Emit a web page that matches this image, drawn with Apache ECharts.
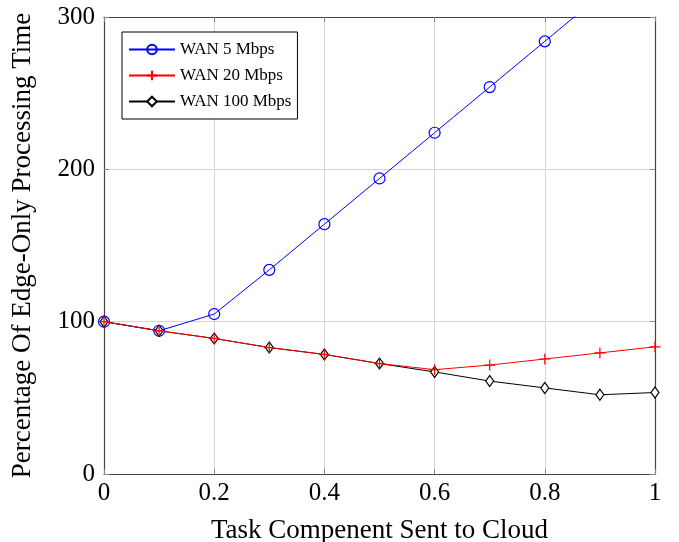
<!DOCTYPE html>
<html>
<head>
<meta charset="utf-8">
<script src="https://cdn.jsdelivr.net/npm/echarts@6/dist/echarts.min.js"></script>
<style>
  html, body { margin: 0; padding: 0; background: #fff; }
  #chart { width: 679px; height: 542px; }
</style>
</head>
<body>
<div id="chart"></div>
<script>
// Fraction of the task component offloaded to the cloud
const fractions = [0, 0.1, 0.2, 0.3, 0.4, 0.5, 0.6, 0.7, 0.8, 0.9, 1.0];
// Processing time as a percentage of edge-only time
const wan5 = [100, 94, 105, 134, 164, 194, 224, 254, 284, 314, 344];
const wan20 = [100, 94, 89, 83, 78.5, 72.5, 68.5, 71.5, 75.5, 79.5, 83.5];
const wan100 = [100, 94, 89, 83, 78.5, 72.5, 67, 61, 56.5, 52, 53.5];
const seriesNames = ['WAN 5 Mbps', 'WAN 20 Mbps', 'WAN 100 Mbps'];

const pairs = ys => fractions.map((x, i) => [x, ys[i]]);
const serif = 'Liberation Serif';
const plusPath = 'path://M0,-5L0,5M-5,0L5,0';

const chart = echarts.init(document.getElementById('chart'), null, { renderer: 'canvas' });

const frameLine = { show: true, onZero: false, lineStyle: { color: '#444', width: 1.2 } };
const frameTick = { show: true, inside: true, length: 5, lineStyle: { color: '#888', width: 1 } };

chart.setOption({
  animation: false,
  textStyle: { fontFamily: serif },
  grid: {
    left: 104, right: 24, top: 17, bottom: 68,
    containLabel: false, outerBoundsMode: 'none'
  },
  legend: {
    orient: 'vertical',
    left: 122,
    top: 32,
    itemWidth: 46,
    itemHeight: 12,
    itemGap: 9,
    padding: [9, 6, 9, 6],
    borderColor: '#000',
    borderWidth: 1,
    backgroundColor: '#fff',
    textStyle: { fontFamily: serif, fontSize: 17, color: '#000' },
    data: seriesNames
  },
  xAxis: [
    {
      type: 'value', min: 0, max: 1, interval: 0.2, position: 'bottom',
      name: 'Task Compenent Sent to Cloud',
      nameLocation: 'middle', nameGap: 43,
      nameTextStyle: { fontFamily: serif, fontSize: 27, color: '#000' },
      axisLine: frameLine,
      axisTick: frameTick,
      axisLabel: { fontFamily: serif, fontSize: 25, color: '#000', margin: 7 },
      splitLine: { show: true, lineStyle: { color: '#d4d4d4', width: 1 } }
    },
    {
      type: 'value', min: 0, max: 1, interval: 0.2, position: 'top',
      axisLine: frameLine, axisTick: frameTick,
      axisLabel: { show: false }, splitLine: { show: false }
    }
  ],
  yAxis: [
    {
      type: 'value', min: 0, max: 300, interval: 100, position: 'left',
      name: 'Percentage Of Edge-Only Processing Time',
      nameLocation: 'middle', nameGap: 68, nameRotate: 90,
      nameTextStyle: { fontFamily: serif, fontSize: 27, color: '#000' },
      axisLine: frameLine,
      axisTick: frameTick,
      axisLabel: { fontFamily: serif, fontSize: 25, color: '#000', margin: 9 },
      splitLine: { show: true, lineStyle: { color: '#d4d4d4', width: 1 } }
    },
    {
      type: 'value', min: 0, max: 300, interval: 100, position: 'right',
      axisLine: frameLine, axisTick: frameTick,
      axisLabel: { show: false }, splitLine: { show: false }
    }
  ],
  series: [
    {
      name: seriesNames[0], type: 'line', data: pairs(wan5), clip: true,
      symbol: 'circle', symbolSize: 11,
      lineStyle: { color: '#0000ff', width: 1 },
      itemStyle: { color: 'rgba(0,0,0,0)', borderColor: '#0000ff', borderWidth: 1.2 },
      z: 2
    },
    {
      name: seriesNames[2], type: 'line', data: pairs(wan100), clip: true,
      symbol: 'diamond', symbolSize: [8, 11],
      lineStyle: { color: '#000', width: 1 },
      itemStyle: { color: '#fff', borderColor: '#000', borderWidth: 1.2 },
      z: 3
    },
    {
      name: seriesNames[1], type: 'line', data: pairs(wan20), clip: true,
      symbol: plusPath, symbolSize: 11,
      lineStyle: { color: '#ff0000', width: 1 },
      itemStyle: { color: 'rgba(0,0,0,0)', borderColor: '#ff0000', borderWidth: 1.2 },
      z: 4
    }
  ]
});
</script>
</body>
</html>
